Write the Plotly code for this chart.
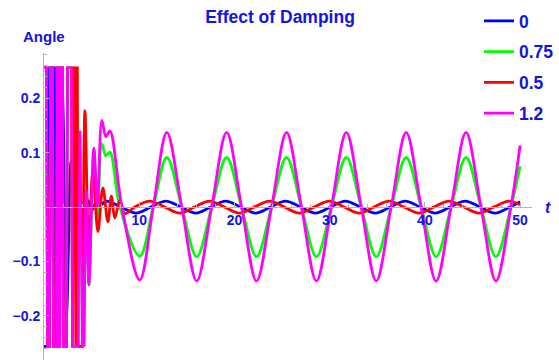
import plotly.graph_objects as go

# ---------------- data ----------------
labels = ["0", "0.75", "0.5", "1.2"]
colors = ["#0000ff", "#00ff00", "#ff0000", "#ff00ff"]

t_blue = [0.0, 0.472, 0.577, 1.101, 1.205, 1.468,
          1.939, 2.358, 2.830, 3.249, 3.721, 4.140, 4.612, 5.031, 5.451, 5.870,
          6.52, 8.09, 9.66, 11.23, 12.8, 14.37, 15.94, 17.51, 19.08, 20.66, 22.23,
          23.8, 25.37, 26.94, 28.51, 30.08, 31.65, 33.22, 34.79, 36.37, 37.93,
          39.51, 41.08, 42.65, 44.22, 45.79, 47.36, 48.93, 50.0]
y_blue = [-0.256, -0.256, 0.256, 0.256, -0.256, -0.256,
          0.205, -0.2, 0.085, -0.09, 0.03, -0.03, 0.012, -0.006, 0.008, 0.002,
          0.011, 0.0, -0.011, 0.0, 0.011, 0.0, -0.011, 0.0, 0.011, 0.0, -0.011,
          0.0, 0.011, 0.0, -0.011, 0.0, 0.011, 0.0, -0.011, 0.0, 0.011,
          0.0, -0.011, 0.0, 0.011, 0.0, -0.011, 0.0, 0.0097]

t_green = [0.0, 0.262, 0.367, 0.577, 0.681, 0.891, 0.996, 1.310, 1.394, 1.488, 1.572,
           1.656, 1.740, 1.939, 2.044, 2.358, 2.463, 2.883, 2.987, 3.564, 3.774, 4.036,
           4.193, 4.455, 4.717, 5.241, 5.608, 6.08, 6.499, 6.918,
           7.966, 10.05, 11.47, 12.9, 14.47, 16.04, 17.61, 19.18, 20.75, 22.32, 23.9,
           25.47, 27.04, 28.61, 30.18, 31.75, 33.32, 34.89, 36.46, 38.03, 39.61, 41.18,
           42.75, 44.32, 45.89, 47.46, 49.03, 50.0]
y_green = [0.256, 0.256, -0.256, -0.256, 0.256, 0.256, -0.256, -0.256, 0.256, 0.256, -0.256,
           -0.256, 0.256, 0.256, -0.256, -0.256, 0.256, 0.256, -0.256, -0.256, 0.14, -0.256,
           -0.256, 0.03, -0.143, 0.108, -0.02, 0.116, 0.094, 0.101,
           0.0, -0.09, 0.0, 0.091, 0.0, -0.091, 0.0, 0.091, 0.0, -0.091, 0.0,
           0.091, 0.0, -0.091, 0.0, 0.091, 0.0, -0.091, 0.0, 0.091, 0.0, -0.091,
           0.0, 0.091, 0.0, -0.091, 0.0, 0.075]

t_red = [0.0, 0.262, 0.367, 0.577, 0.681, 0.891, 0.996, 1.310, 1.394, 1.488, 1.572,
         1.656, 1.740, 1.939, 2.044, 2.358, 2.463, 2.883, 2.987, 3.092, 3.197, 3.270,
         3.333, 3.407, 3.512, 3.595, 4.088, 4.298, 4.717, 5.136,
         5.66, 6.184, 6.709, 7.075, 7.442, 7.966, 8.491,
         9.53, 11.1, 12.67, 14.24, 15.81, 17.38, 18.95, 20.52, 22.1, 23.67, 25.24,
         26.81, 28.38, 29.95, 31.52, 33.09, 34.66, 36.23, 37.81, 39.37, 40.95, 42.52,
         44.09, 45.66, 47.23, 48.8, 50.0]
y_red = [0.256, 0.256, -0.256, -0.256, 0.256, 0.256, -0.256, -0.256, 0.256, 0.256, -0.256,
         -0.256, 0.256, 0.256, -0.256, -0.256, 0.256, 0.256, -0.256, 0.256, 0.256, -0.256,
         -0.256, 0.256, 0.256, -0.256, -0.256, 0.177, -0.08, 0.07,
         -0.045, 0.035, -0.027, 0.02, -0.02, 0.012, -0.012,
         0.0, 0.011, 0.0, -0.011, 0.0, 0.011, 0.0, -0.011, 0.0, 0.011, 0.0,
         -0.011, 0.0, 0.011, 0.0, -0.011, 0.0, 0.011, 0.0, -0.011, 0.0, 0.011,
         0.0, -0.011, 0.0, 0.011, 0.004]

t_magenta = [0.0, 0.262, 0.367, 0.577, 0.681, 0.891, 0.996, 1.310, 1.394, 1.488, 1.572,
             1.656, 1.740, 1.939, 2.044, 2.358, 2.463, 2.883, 2.987, 3.564, 3.774, 4.036,
             4.193, 4.455, 4.717, 5.241, 5.608, 6.08, 6.499, 6.918,
             8.176, 10.05, 11.47, 12.9, 14.47, 16.04, 17.61, 19.18, 20.75, 22.32, 23.9,
             25.47, 27.04, 28.61, 30.18, 31.75, 33.32, 34.89, 36.46, 38.03, 39.61, 41.18,
             42.75, 44.32, 45.89, 47.46, 49.03, 50.0]
y_magenta = [0.256, 0.256, -0.256, -0.256, 0.256, 0.256, -0.256, -0.256, 0.256, 0.256, -0.256,
             -0.256, 0.256, 0.256, -0.256, -0.256, 0.256, 0.256, -0.256, -0.256, 0.14, -0.256,
             -0.256, 0.03, -0.143, 0.108, 0.0, 0.159, 0.129, 0.14,
             0.0, -0.134, 0.0, 0.137, 0.0, -0.136, 0.0, 0.137, 0.0, -0.136, 0.0,
             0.137, 0.0, -0.136, 0.0, 0.137, 0.0, -0.136, 0.0, 0.137, 0.0, -0.136,
             0.0, 0.137, 0.0, -0.136, 0.0, 0.113]

# time where the clipped (off-scale) start ends and the smooth part begins
t_clip_end = [1.468, 4.193, 4.088, 4.193]

x_ticks = [10, 20, 30, 40, 50]
y_ticks = [-0.2, -0.1, 0.1, 0.2]

# ---------------- figure ----------------
TXT = "rgb(20,20,225)"
FONT = "Liberation Sans, Arial, sans-serif"
AX = "#b4b4b4"

series = [(t_blue, y_blue), (t_green, y_green), (t_red, y_red), (t_magenta, y_magenta)]
fig = go.Figure()
for (tx, ty), name, col, tc in zip(series, labels, colors, t_clip_end):
    k = tx.index(tc)
    # clipped, off-scale part: straight strokes
    fig.add_trace(go.Scatter(x=tx[:k + 1], y=ty[:k + 1], mode="lines", name=name,
                             legendgroup=name, showlegend=False, hoverinfo="skip",
                             line=dict(color=col, width=2.6, shape="linear")))
    # smooth part
    fig.add_trace(go.Scatter(x=tx[k:], y=ty[k:], mode="lines", name=name,
                             legendgroup=name, showlegend=True,
                             line=dict(color=col, width=2.8, shape="spline", smoothing=1.0)))

y_lo, y_hi = -0.281, 0.283
fig.update_layout(
    width=559, height=361,
    margin=dict(l=44, r=26, t=53, b=1),
    paper_bgcolor="white", plot_bgcolor="white",
    font=dict(family=FONT, color=TXT, size=14, weight="bold"),
    title=dict(text="Effect of Damping", x=280 / 559, xanchor="center", xref="container",
               y=1 - 17 / 361, yref="container", yanchor="middle",
               font=dict(family=FONT, size=17.5, color=TXT, weight="bold")),
    showlegend=True,
    legend=dict(x=(479 - 44) / 489, xanchor="left", y=(360 - 3) / 307, yanchor="top",
                font=dict(family=FONT, size=17.5, color=TXT, weight="bold"),
                bgcolor="rgba(0,0,0,0)", tracegroupgap=5, itemwidth=30),
    xaxis=dict(range=[0, 51.25], anchor="free", position=(0 - y_lo) / (y_hi - y_lo),
               showline=True, linecolor=AX, linewidth=1, showgrid=False, zeroline=False,
               tickmode="array", tickvals=x_ticks, ticks="inside", ticklen=5,
               tickcolor=AX, tickwidth=1,
               tickfont=dict(family=FONT, size=14, color=TXT, weight="bold"),
               minor=dict(dtick=2, tick0=0, ticks="inside", ticklen=3, tickcolor=AX,
                          showgrid=False)),
    yaxis=dict(range=[y_lo, y_hi], showline=True, linecolor=AX, linewidth=1,
               showgrid=False, zeroline=False,
               tickmode="array", tickvals=y_ticks, ticks="inside", ticklen=5,
               tickcolor=AX, tickwidth=1,
               tickfont=dict(family=FONT, size=14, color=TXT, weight="bold"),
               minor=dict(dtick=0.02, tick0=0, ticks="inside", ticklen=3, tickcolor=AX,
                          showgrid=False)),
    annotations=[
        dict(text="Angle", xref="paper", yref="paper", x=(43.5 - 44) / 489,
             y=(360 - 37) / 307, xanchor="center", yanchor="middle", showarrow=False,
             font=dict(family=FONT, size=15, color=TXT, weight="bold")),
        dict(text="<i>t</i>", xref="paper", yref="paper", x=(549 - 44) / 489,
             y=(360 - 207) / 307, xanchor="center", yanchor="middle", showarrow=False,
             font=dict(family=FONT, size=16, color=TXT, weight="bold")),
    ],
)

fig.write_html("out.html")
